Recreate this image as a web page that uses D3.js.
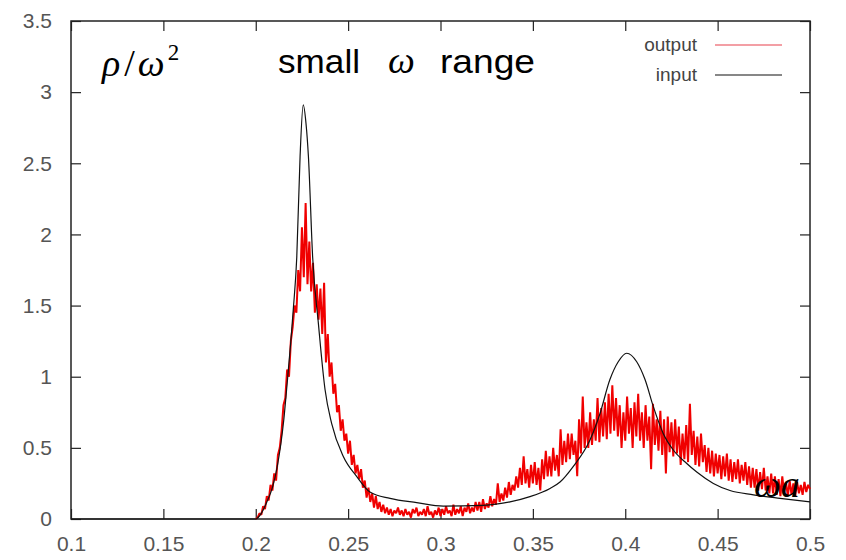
<html>
<head>
    <script src="https://d3js.org/d3.v7.min.js"></script>
    <style>
        body { margin: 0; background: white; }
        .tick text { font-family: "Liberation Sans", Arial, sans-serif; font-size: 21px; fill: #555; }
    </style>
</head>
<body>
    <svg id="chart" width="846" height="560"></svg>
    <script>

        // x ticks / y ticks
        const xTicks = [0.1, 0.15, 0.2, 0.25, 0.3, 0.35, 0.4, 0.45, 0.5]
        const yTicks = [0, 0.5, 1, 1.5, 2, 2.5, 3, 3.5]

        // "input" curve: [omega a, rho/omega^2]
        const inputX = [0.1, 0.2, 0.203, 0.206, 0.209, 0.2115, 0.2135, 0.2152, 0.2167, 0.219, 0.2203, 0.2222,
            0.224, 0.2257, 0.2272, 0.2285, 0.2308, 0.2339, 0.2375, 0.2411, 0.2474, 0.2546, 0.2618,
            0.2727, 0.2871, 0.3015, 0.3232, 0.3376, 0.3484, 0.3593, 0.3647, 0.3719, 0.3809, 0.3863,
            0.3917, 0.3962, 0.4008, 0.4062, 0.4107, 0.4152, 0.4206, 0.426, 0.4333, 0.4387, 0.4477,
            0.4567, 0.4694, 0.4838, 0.5]
        const inputY = [0, 0, 0.04, 0.12, 0.22, 0.36, 0.52, 0.7, 0.91, 1.25, 1.47, 1.84,
            2.55, 2.91, 2.78, 2.55, 1.84, 1.375, 0.91, 0.67, 0.44, 0.3, 0.19,
            0.145, 0.115, 0.091, 0.096, 0.12, 0.157, 0.215, 0.26, 0.37, 0.555, 0.74,
            0.98, 1.105, 1.165, 1.105, 0.98, 0.79, 0.6, 0.485, 0.39, 0.33, 0.25,
            0.2, 0.17, 0.145, 0.12]

        // "output" curve: one value every 0.001 from 0.200 to 0.500
        const outputStart = 0.2
        const outputStep = 0.001
        const outputY = [
            0.0, 0.01, 0.04, 0.03, 0.09, 0.07, 0.16, 0.13, 0.24, 0.2,
            0.32, 0.27, 0.45, 0.5, 0.62, 0.8, 0.85, 1.05, 1.0, 1.25,
            1.35, 1.5, 1.45, 1.75, 1.6, 2.05, 1.7, 2.22, 1.65, 1.95,
            1.6, 1.8, 1.45, 1.65, 1.4, 1.62, 1.3, 1.66, 1.1, 1.3,
            1.0, 1.1, 0.88, 0.95, 0.75, 0.8, 0.62, 0.7, 0.55, 0.6,
            0.46, 0.55, 0.38, 0.45, 0.32, 0.38, 0.28, 0.35, 0.22, 0.27,
            0.15, 0.22, 0.12, 0.18, 0.08, 0.16, 0.07, 0.12, 0.05, 0.1,
            0.04, 0.08, 0.03, 0.07, 0.02, 0.06, 0.04, 0.08, 0.03, 0.06,
            0.02, 0.07, 0.03, 0.05, 0.01, 0.07, 0.04, 0.08, 0.02, 0.05,
            0.03, 0.07, 0.02, 0.09, 0.03, 0.05, 0.01, 0.06, 0.03, 0.08,
            0.02, 0.07, 0.03, 0.09, 0.04, 0.06, 0.02, 0.1, 0.03, 0.07,
            0.04, 0.09, 0.02, 0.08, 0.05, 0.11, 0.04, 0.08, 0.05, 0.12,
            0.06, 0.12, 0.05, 0.14, 0.07, 0.11, 0.08, 0.16, 0.09, 0.14,
            0.1, 0.25, 0.12, 0.18, 0.13, 0.22, 0.15, 0.26, 0.17, 0.24,
            0.2, 0.3, 0.22, 0.36, 0.24, 0.44, 0.25, 0.35, 0.22, 0.38,
            0.25, 0.4, 0.24, 0.36, 0.2, 0.42, 0.28, 0.48, 0.3, 0.44,
            0.3, 0.5, 0.34, 0.45, 0.3, 0.63, 0.38, 0.55, 0.4, 0.6,
            0.42, 0.6, 0.45, 0.55, 0.3, 0.7, 0.46, 0.86, 0.5, 0.68,
            0.5, 0.75, 0.52, 0.7, 0.55, 0.85, 0.54, 0.78, 0.58, 0.82,
            0.56, 0.88, 0.6, 0.94, 0.62, 0.85, 0.58, 0.8, 0.5, 0.75,
            0.55, 0.86, 0.6, 0.78, 0.5, 0.82, 0.58, 0.88, 0.55, 0.75,
            0.5, 0.8, 0.55, 0.72, 0.35, 0.81, 0.52, 0.7, 0.48, 0.76,
            0.45, 0.7, 0.32, 0.72, 0.47, 0.68, 0.44, 0.7, 0.46, 0.65,
            0.38, 0.6, 0.42, 0.66, 0.4, 0.81, 0.45, 0.62, 0.38, 0.58,
            0.37, 0.6, 0.4, 0.52, 0.33, 0.5, 0.32, 0.48, 0.3, 0.46,
            0.32, 0.45, 0.28, 0.44, 0.3, 0.46, 0.27, 0.42, 0.26, 0.4,
            0.28, 0.42, 0.25, 0.38, 0.27, 0.4, 0.24, 0.37, 0.22, 0.36,
            0.22, 0.35, 0.2, 0.33, 0.21, 0.36, 0.2, 0.3, 0.18, 0.32,
            0.18, 0.3, 0.17, 0.28, 0.16, 0.3, 0.18, 0.26, 0.16, 0.27,
            0.17, 0.25, 0.16, 0.26, 0.18, 0.24, 0.17, 0.26, 0.19, 0.24,
            0.21]

        const svg = d3.select("#chart")
        const plotL = 71, plotR = 810, plotT = 21, plotB = 519

        const x = d3.scaleLinear().domain([0.1, 0.5]).range([plotL, plotR])
        const y = d3.scaleLinear().domain([0, 3.5]).range([plotB, plotT])

        // axes with inward ticks, mirrored on top and right
        const fmt = d => d3.format("")(d)
        svg.append("g").attr("transform", `translate(0,${plotB})`)
            .call(d3.axisBottom(x).tickValues(xTicks).tickFormat(fmt).tickSize(-10).tickPadding(17))
        svg.append("g").attr("transform", `translate(0,${plotT})`)
            .call(d3.axisTop(x).tickValues(xTicks).tickFormat("").tickSize(-10))
        svg.append("g").attr("transform", `translate(${plotL},0)`)
            .call(d3.axisLeft(y).tickValues(yTicks).tickFormat(fmt).tickSize(-10).tickPadding(19))
        svg.append("g").attr("transform", `translate(${plotR},0)`)
            .call(d3.axisRight(y).tickValues(yTicks).tickFormat("").tickSize(-10))
        svg.selectAll(".domain").remove()
        svg.selectAll(".tick line").attr("stroke", "#222").attr("stroke-width", 1.2)

        svg.append("rect")
            .attr("x", plotL).attr("y", plotT)
            .attr("width", plotR - plotL).attr("height", plotB - plotT)
            .style("fill", "none").style("stroke", "#222").style("stroke-width", 1.5)

        // output (noisy red)
        const outputPts = outputY.map((v, i) => [outputStart + i * outputStep, v])
        svg.append("path").datum(outputPts)
            .attr("d", d3.line().x(d => x(d[0])).y(d => y(d[1])))
            .style("fill", "none").style("stroke", "#f00000").style("stroke-width", 2)
            .style("stroke-linejoin", "bevel")

        // input (black)
        const inputPts = inputX.map((v, i) => [v, inputY[i]])
        svg.append("path").datum(inputPts)
            .attr("d", d3.line().x(d => x(d[0])).y(d => y(d[1])).curve(d3.curveMonotoneX))
            .style("fill", "none").style("stroke", "#111").style("stroke-width", 1.2)

        // legend
        const legend = [["output", "#e8404c", 45], ["input", "#111", 75]]
        legend.forEach(l => {
            svg.append("text").text(l[0])
                .attr("x", 697).attr("y", l[2] + 6)
                .attr("text-anchor", "end")
                .style("font-family", "Liberation Sans, Arial, sans-serif")
                .style("font-size", "19px").style("fill", "#444")
            svg.append("line")
                .attr("x1", 715).attr("x2", 782).attr("y1", l[2]).attr("y2", l[2])
                .style("stroke", l[1]).style("stroke-width", 1.2)
        })

        // annotations
        const rho = svg.append("text").attr("x", 102).attr("y", 76)
            .style("font-family", "Liberation Serif, serif").style("font-style", "italic")
            .style("font-size", "38px").style("fill", "#000")
        rho.append("tspan").text("ρ")
        rho.append("tspan").text("/").style("font-style", "normal").attr("dx", 4)
        rho.append("tspan").text("ω").attr("dx", 3)
        rho.append("tspan").text("2").style("font-style", "normal")
            .style("font-size", "23px").attr("dy", -16).attr("dx", 3)

        const sans = "Liberation Sans, Arial, sans-serif"
        svg.append("text").text("small").attr("x", 278).attr("y", 73)
            .attr("textLength", 82).attr("lengthAdjust", "spacingAndGlyphs")
            .style("font-family", sans).style("font-size", "34px")
        svg.append("text").text("ω").attr("x", 388).attr("y", 73)
            .style("font-family", "Liberation Serif, serif").style("font-style", "italic")
            .style("font-size", "38px")
        svg.append("text").text("range").attr("x", 440).attr("y", 73)
            .attr("textLength", 95).attr("lengthAdjust", "spacingAndGlyphs")
            .style("font-family", sans).style("font-size", "34px")

        svg.append("text").text("ωa").attr("x", 754).attr("y", 497)
            .style("font-family", "Liberation Serif, serif").style("font-style", "italic")
            .style("font-size", "38px")

    </script>
</body>
</html>
